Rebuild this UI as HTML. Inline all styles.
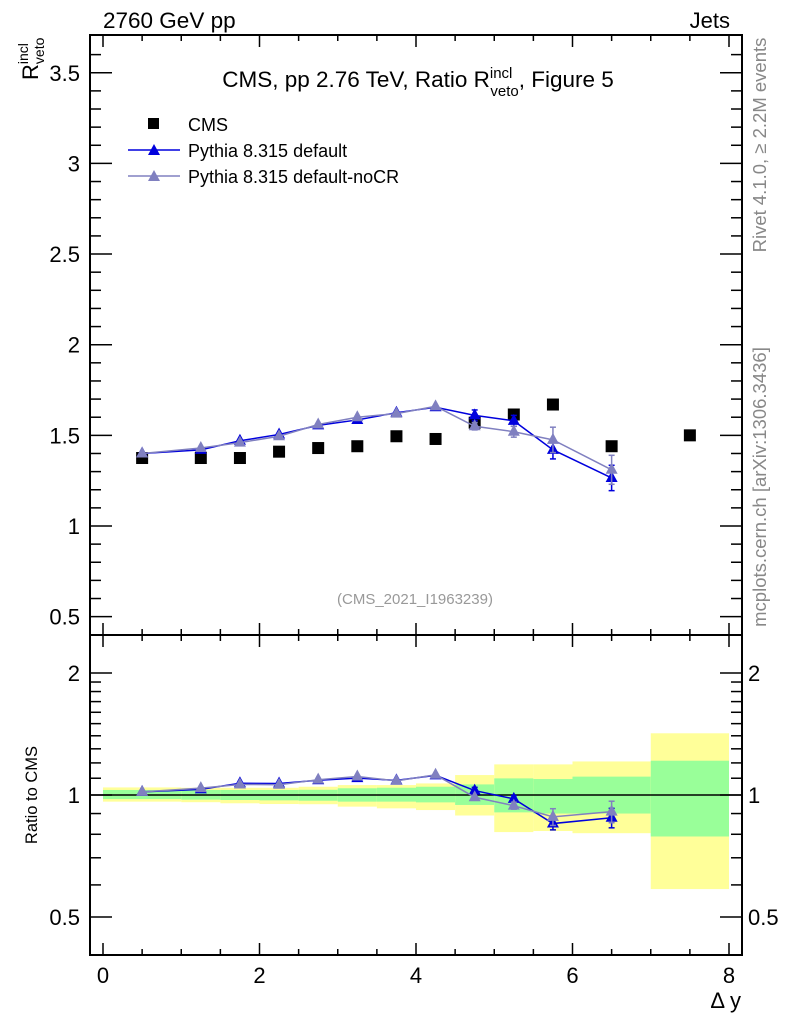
<!DOCTYPE html>
<html><head><meta charset="utf-8"><style>
body{margin:0;background:#fff;}
svg{display:block;font-family:"Liberation Sans",sans-serif;}
</style></head><body>
<svg id="c" width="786" height="1024" viewBox="0 0 786 1024">
<g id="bands"></g>
<g id="ax"></g>
<g id="marks"></g>
<text x="103" y="28" font-size="22.5">2760 GeV pp</text>
<text x="730" y="28" font-size="22" text-anchor="end">Jets</text>
<text x="418" y="87" font-size="22.5" text-anchor="middle">CMS, pp 2.76 TeV, Ratio R<tspan font-size="15" dy="-9">incl</tspan><tspan font-size="15" dx="-22" dy="18">veto</tspan><tspan dy="-9">, Figure 5</tspan></text>
<g transform="translate(38,80) rotate(-90)"><text x="0" y="0" font-size="22">R<tspan font-size="14" dy="-10">incl</tspan><tspan font-size="14" dx="-21" dy="16">veto</tspan></text></g>
<text transform="translate(37,795) rotate(-90)" font-size="16.5" text-anchor="middle">Ratio to CMS</text>
<text x="741" y="1008" font-size="22" text-anchor="end">Δ y</text>
<text x="415" y="604" font-size="15" fill="#999" text-anchor="middle">(CMS_2021_I1963239)</text>
<text transform="translate(766,145) rotate(-90)" font-size="18.5" fill="#888" text-anchor="middle">Rivet 4.1.0, ≥ 2.2M events</text>
<text transform="translate(766,487) rotate(-90)" font-size="18.5" fill="#888" text-anchor="middle">mcplots.cern.ch [arXiv:1306.3436]</text>
<g>
<rect x="148" y="118" width="11" height="11" fill="#000"/>
<text x="188" y="131" font-size="18">CMS</text>
<line x1="128" y1="150" x2="180" y2="150" stroke="#0000dd" stroke-width="1.5"/>
<polygon points="148,155 160,155 154,144" fill="#0000dd"/>
<text x="188" y="157" font-size="18">Pythia 8.315 default</text>
<line x1="128" y1="176" x2="180" y2="176" stroke="#8080c0" stroke-width="1.5"/>
<polygon points="148,181 160,181 154,170" fill="#8080c0"/>
<text x="188" y="183" font-size="18">Pythia 8.315 default-noCR</text>
</g>
</svg>
<script>
const edges=[0,1,1.5,2,2.5,3,3.5,4,4.5,5,5.5,6,7,8];
const xCenters=[0.5,1.25,1.75,2.25,2.75,3.25,3.75,4.25,4.75,5.25,5.75,6.5,7.5];
const cmsVals=[1.375,1.375,1.375,1.41,1.43,1.44,1.495,1.48,1.57,1.615,1.67,1.44,1.5];
const defVals=[1.40,1.42,1.47,1.505,1.555,1.585,1.625,1.655,1.61,1.58,1.42,1.265];
const defErr=[0.005,0.005,0.005,0.005,0.005,0.005,0.008,0.008,0.03,0.03,0.05,0.07];
const nocrVals=[1.40,1.43,1.46,1.495,1.56,1.60,1.62,1.66,1.55,1.52,1.475,1.31];
const nocrErr=[0.005,0.005,0.005,0.005,0.005,0.005,0.008,0.008,0.02,0.03,0.07,0.08];
const yellowHi=[1.044,1.042,1.042,1.042,1.048,1.058,1.058,1.068,1.12,1.19,1.19,1.21,1.42];
const yellowLo=[0.963,0.96,0.954,0.95,0.949,0.936,0.927,0.918,0.89,0.81,0.815,0.805,0.586];
const greenHi=[1.029,1.029,1.029,1.029,1.03,1.039,1.042,1.048,1.062,1.099,1.095,1.11,1.215];
const greenLo=[0.977,0.974,0.972,0.97,0.968,0.963,0.963,0.959,0.945,0.906,0.9,0.9,0.79];
const mainTicks=[0.5,1,1.5,2,2.5,3,3.5];
const ratioTicks=[0.5,1,2];
const xTicks=[0,2,4,6,8];

const NS='http://www.w3.org/2000/svg';
const L=90,R=742,T=35,M=635,B=955;
const X=v=>103+v*78.25;
const Y=v=>526-(v-1)*181.3;
const YR=v=>795-122*Math.log2(v);
function mk(p,tag,a){const e=document.createElementNS(NS,tag);for(const k in a)e.setAttribute(k,a[k]);p.appendChild(e);return e;}
const ax=document.getElementById('ax'),bands=document.getElementById('bands'),marks=document.getElementById('marks');

for(let i=0;i<edges.length-1;i++){
 let r=mk(bands,'rect',{x:X(edges[i]),y:YR(yellowHi[i]),width:X(edges[i+1])-X(edges[i]),height:YR(yellowLo[i])-YR(yellowHi[i]),fill:'#ffff99'});
 
 
 let g=mk(bands,'rect',{x:X(edges[i]),y:YR(greenHi[i]),width:X(edges[i+1])-X(edges[i]),height:YR(greenLo[i])-YR(greenHi[i]),fill:'#99ff99'});
 
 
}
mk(ax,'line',{x1:L,x2:R,y1:YR(1),y2:YR(1),stroke:'#000','stroke-width':1.5});
mk(ax,'rect',{x:L,y:T,width:R-L,height:M-T,fill:'none',stroke:'#000','stroke-width':2});
mk(ax,'rect',{x:L,y:M,width:R-L,height:B-M,fill:'none',stroke:'#000','stroke-width':2});
function tick(x1,y1,x2,y2){mk(ax,'line',{x1,y1,x2,y2,stroke:'#000','stroke-width':1.5});}
for(let v=0;v<=8.001;v+=0.5){const big=Math.abs(v%2)<1e-6,len=big?12:6,x=X(v);
 tick(x,B,x,B-len);tick(x,T,x,T+len);tick(x,M,x,M-len);tick(x,M,x,M+len);}
xTicks.forEach(v=>{const t=mk(ax,'text',{x:X(v),y:983,'font-size':22,'text-anchor':'middle'});t.textContent=v;
 
 });
for(let k=4;k<=36;k++){const v=k/10;const y=Y(v);if(y<T||y>M)continue;const big=k%5==0,len=big?22:11;
 tick(L,y,L+len,y);tick(R,y,R-len,y);}
mainTicks.forEach(v=>{const t=mk(ax,'text',{x:80,y:Y(v)+8,'font-size':22,'text-anchor':'end'});t.textContent=v;
 
 });
[0.5,0.6,0.7,0.8,0.9,1,1.1,1.2,1.3,1.4,1.5,1.6,1.7,1.8,1.9,2].forEach(v=>{const y=YR(v);const big=ratioTicks.includes(v),len=big?22:11;
 tick(L,y,L+len,y);tick(R,y,R-len,y);});
ratioTicks.forEach(v=>{[[80,'end'],[748,'start']].forEach(([x,a])=>{const t=mk(ax,'text',{x,y:YR(v)+8,'font-size':22,'text-anchor':a});t.textContent=v;
 
 });});

function series(vals,errs,col,name){
 const pts=vals.map((v,i)=>X(xCenters[i])+','+Y(v)).join(' ');
 const pl=mk(marks,'polyline',{points:pts,fill:'none',stroke:col,'stroke-width':1.5});
 
 
 const rp=vals.map((v,i)=>X(xCenters[i])+','+YR(v/cmsVals[i])).join(' ');
 const rl=mk(marks,'polyline',{points:rp,fill:'none',stroke:col,'stroke-width':1.5});
 
 
 vals.forEach((v,i)=>{const x=X(xCenters[i]);
  [[Y(v),Y(v+errs[i]),Y(v-errs[i])],[YR(v/cmsVals[i]),YR((v+errs[i])/cmsVals[i]),YR((v-errs[i])/cmsVals[i])]].forEach(([y,y1,y2],j)=>{
   if(y2-y1>6){mk(marks,'line',{x1:x,x2:x,y1,y2,stroke:col,'stroke-width':1.5});
    mk(marks,'line',{x1:x-3,x2:x+3,y1,y2:y1,stroke:col,'stroke-width':1.5});
    mk(marks,'line',{x1:x-3,x2:x+3,y1:y2,y2,stroke:col,'stroke-width':1.5});}
   const p=mk(marks,'polygon',{points:`${x-6},${y+4} ${x+6},${y+4} ${x},${y-7}`,fill:col});
   
   
  });});
}
cmsVals.forEach((v,i)=>{const r=mk(marks,'rect',{x:X(xCenters[i])-6,y:Y(v)-6,width:12,height:12,fill:'#000'});
 
 });
series(defVals,defErr,'#0000dd','default');
series(nocrVals,nocrErr,'#8080c0','nocr');
</script>
</body></html>
